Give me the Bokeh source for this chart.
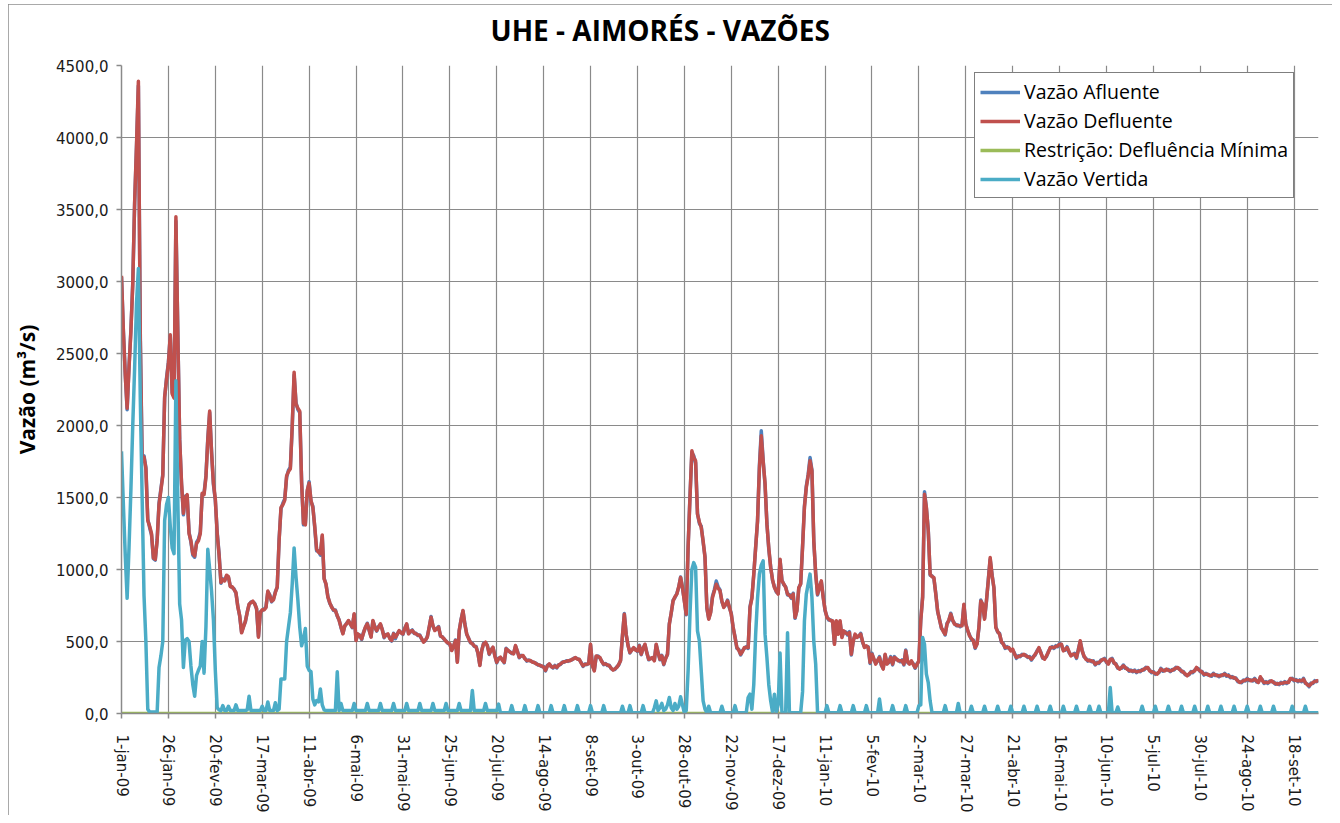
import math
from bokeh.plotting import figure
from bokeh.models import Range1d, FixedTicker, Legend, LegendItem, Title
from bokeh.embed import file_html
from bokeh.resources import INLINE

# ---------------- data (daily, from 1-jan-09; one week per row) ----------------
defluente = [
    3040, 2650, 2350, 2120, 2400, 2650, 2980,
    3550, 3950, 4390, 2600, 1750, 1780, 1700,
    1340, 1300, 1250, 1080, 1070, 1200, 1450,
    1550, 1650, 2200, 2320, 2430, 2630, 2220,
    2190, 3450, 2650, 1900, 1600, 1390, 1500,
    1520, 1250, 1200, 1110, 1095, 1180, 1200,
    1250, 1530, 1520, 1640, 1900, 2100, 1810,
    1600, 1490, 1250, 1100, 910, 930, 920,
    960, 950, 880, 880, 860, 840, 740,
    680, 560, 600, 640, 700, 760, 770,
    780, 760, 730, 530, 700, 720, 720,
    735, 850, 820, 780, 790, 840, 880,
    1200, 1430, 1450, 1480, 1650, 1680, 1700,
    2000, 2370, 2150, 2120, 2100, 1600, 1320,
    1310, 1550, 1600, 1480, 1430, 1300, 1140,
    1120, 1110, 1240, 935, 900, 808, 770,
    738, 720, 715, 680, 646, 600, 553,
    610, 623, 646, 620, 600, 692, 507,
    553, 540, 518, 560, 600, 623, 580,
    530, 646, 600, 576, 600, 623, 580,
    530, 545, 553, 520, 507, 553, 530,
    550, 576, 560, 553, 590, 623, 553,
    570, 576, 560, 553, 545, 541, 520,
    495, 510, 530, 600, 669, 610, 576,
    590, 600, 541, 530, 518, 500, 490,
    484, 437, 470, 507, 356, 576, 650,
    715, 620, 553, 520, 495, 484, 470,
    461, 420, 333, 440, 484, 495, 470,
    414, 440, 461, 400, 356, 380, 391,
    370, 356, 449, 440, 426, 420, 414,
    472, 430, 391, 400, 403, 380, 368,
    368, 368, 356, 356, 345, 340, 333,
    330, 322, 300, 330, 345, 325, 320,
    330, 320, 335, 345, 354, 360, 362,
    366, 366, 375, 380, 389, 377, 377,
    350, 331, 340, 343, 345, 481, 330,
    296, 400, 395, 389, 360, 343, 343,
    338, 331, 315, 301, 310, 320, 340,
    366, 540, 690, 551, 470, 424, 440,
    458, 440, 435, 470, 412, 450, 481,
    420, 377, 380, 389, 366, 481, 420,
    377, 400, 343, 380, 412, 620, 700,
    782, 810, 829, 880, 944, 875, 780,
    690, 1153, 1500, 1824, 1778, 1755, 1384,
    1330, 1292, 1200, 1083, 736, 655, 700,
    806, 850, 898, 870, 852, 782, 736,
    760, 782, 740, 690, 600, 528, 458,
    440, 412, 430, 458, 458, 458, 736,
    800, 968, 1150, 1338, 1700, 1928, 1750,
    1600, 1315, 1150, 1014, 930, 875, 850,
    829, 1072, 921, 900, 875, 829, 820,
    806, 829, 667, 713, 875, 898, 1153,
    1431, 1569, 1650, 1755, 1685, 1199, 968,
    829, 875, 921, 806, 720, 667, 655,
    644, 644, 481, 644, 551, 644, 528,
    574, 560, 551, 562, 412, 500, 551,
    528, 540, 551, 500, 458, 470, 458,
    354, 412, 380, 343, 370, 389, 340,
    308, 412, 343, 360, 389, 343, 389,
    380, 366, 366, 366, 343, 435, 360,
    343, 366, 340, 320, 340, 366, 644,
    806, 1523, 1431, 1268, 968, 950, 944,
    829, 713, 650, 597, 570, 551, 620,
    650, 690, 650, 620, 615, 609, 609,
    609, 759, 620, 580, 539, 520, 505,
    458, 481, 600, 782, 759, 655, 782,
    921, 1083, 960, 875, 597, 570, 551,
    500, 481, 458, 458, 458, 435, 447,
    412, 389, 395, 400, 405, 412, 400,
    395, 389, 377, 390, 412, 430, 458,
    420, 389, 377, 400, 424, 458, 458,
    458, 465, 470, 481, 481, 435, 445,
    458, 430, 400, 412, 412, 389, 440,
    505, 435, 400, 377, 370, 366, 366,
    360, 343, 350, 354, 365, 377, 377,
    360, 343, 377, 377, 354, 340, 320,
    308, 320, 331, 320, 308, 300, 296,
    296, 296, 290, 292, 296, 300, 308,
    315, 320, 296, 290, 285, 278, 273,
    290, 308, 300, 296, 308, 300, 296,
    300, 308, 315, 320, 305, 296, 285,
    275, 262, 275, 285, 290, 296, 320,
    305, 296, 285, 273, 273, 273, 262,
    265, 273, 270, 262, 262, 262, 270,
    273, 265, 262, 255, 250, 250, 240,
    227, 215, 220, 227, 232, 238, 235,
    227, 232, 238, 225, 215, 255, 230,
    215, 215, 215, 220, 227, 215, 210,
    204, 207, 210, 212, 215, 215, 215,
    243, 238, 233, 230, 227, 227, 227,
    238, 215, 200, 192, 205, 215, 222,
    227, 225,
]

afluente = [
    3030, 2660, 2360, 2110, 2410, 2660, 2990,
    3540, 3930, 4360, 2650, 1760, 1790, 1710,
    1350, 1290, 1240, 1075, 1065, 1210, 1460,
    1560, 1660, 2190, 2330, 2440, 2620, 2230,
    2200, 3420, 2660, 1910, 1590, 1380, 1510,
    1510, 1260, 1190, 1100, 1085, 1190, 1210,
    1260, 1520, 1530, 1650, 1910, 2090, 1820,
    1590, 1480, 1260, 1110, 905, 935, 925,
    955, 945, 885, 875, 865, 835, 745,
    675, 565, 605, 635, 705, 755, 775,
    775, 765, 725, 535, 705, 715, 725,
    740, 845, 825, 775, 795, 845, 875,
    1210, 1420, 1460, 1490, 1640, 1690, 1710,
    1990, 2350, 2160, 2110, 2090, 1610, 1310,
    1320, 1540, 1610, 1470, 1440, 1290, 1130,
    1130, 1100, 1230, 940, 895, 812, 765,
    742, 716, 719, 676, 650, 596, 557,
    606, 627, 642, 624, 596, 688, 511,
    549, 544, 514, 564, 596, 627, 576,
    534, 642, 604, 572, 604, 619, 584,
    526, 549, 549, 524, 503, 557, 520,
    554, 572, 564, 549, 594, 619, 557,
    566, 580, 556, 557, 541, 545, 516,
    499, 506, 534, 596, 673, 606, 580,
    586, 604, 537, 534, 514, 504, 486,
    480, 441, 466, 511, 360, 572, 654,
    711, 624, 549, 524, 491, 488, 466,
    465, 416, 337, 436, 488, 491, 474,
    410, 444, 457, 404, 352, 384, 387,
    374, 352, 453, 436, 430, 416, 418,
    468, 434, 387, 404, 399, 384, 364,
    372, 364, 360, 352, 349, 336, 337,
    326, 326, 296, 334, 341, 329, 316,
    334, 316, 339, 341, 358, 356, 366,
    362, 370, 371, 384, 385, 381, 373,
    354, 327, 344, 339, 349, 477, 334,
    300, 396, 399, 385, 364, 339, 347,
    334, 335, 311, 305, 306, 324, 336,
    370, 536, 694, 547, 474, 420, 444,
    454, 444, 431, 474, 408, 454, 477,
    424, 373, 384, 385, 370, 477, 424,
    373, 404, 339, 384, 408, 624, 696,
    786, 806, 833, 876, 948, 871, 784,
    686, 1160, 1510, 1810, 1790, 1740, 1390,
    1320, 1300, 1190, 1090, 730, 660, 705,
    815, 860, 920, 880, 858, 776, 742,
    754, 788, 734, 696, 594, 534, 452,
    446, 406, 436, 452, 464, 452, 742,
    806, 962, 1156, 1332, 1720, 1963, 1760,
    1590, 1325, 1140, 1020, 924, 881, 844,
    835, 1066, 927, 894, 881, 823, 826,
    800, 835, 661, 719, 869, 904, 1160,
    1440, 1580, 1660, 1778, 1690, 1190, 975,
    823, 881, 915, 812, 714, 673, 649,
    650, 638, 487, 638, 557, 638, 534,
    568, 566, 545, 568, 406, 506, 545,
    534, 534, 557, 494, 464, 464, 464,
    348, 418, 374, 349, 364, 395, 334,
    314, 406, 349, 354, 395, 337, 395,
    374, 372, 360, 372, 337, 441, 354,
    349, 360, 346, 314, 346, 360, 650,
    810, 1540, 1425, 1275, 960, 956, 938,
    835, 707, 656, 591, 576, 545, 626,
    644, 696, 644, 626, 609, 615, 603,
    615, 753, 626, 574, 545, 514, 511,
    452, 487, 594, 788, 753, 661, 776,
    930, 1070, 966, 869, 603, 564, 557,
    494, 487, 452, 464, 452, 441, 441,
    418, 383, 401, 394, 411, 406, 406,
    389, 395, 371, 396, 406, 436, 452,
    426, 383, 383, 394, 430, 452, 464,
    452, 471, 464, 487, 475, 441, 439,
    464, 424, 406, 406, 418, 383, 446,
    499, 441, 394, 383, 364, 372, 360,
    366, 337, 356, 348, 371, 371, 383,
    354, 349, 371, 383, 348, 346, 314,
    314, 314, 337, 314, 314, 294, 302,
    290, 302, 284, 298, 290, 306, 302,
    321, 314, 302, 284, 291, 272, 279,
    284, 314, 294, 302, 302, 306, 290,
    306, 302, 321, 314, 311, 290, 291,
    269, 268, 269, 291, 284, 302, 314,
    311, 290, 291, 267, 279, 267, 268,
    259, 279, 264, 268, 256, 268, 264,
    279, 259, 268, 249, 256, 244, 246,
    221, 221, 214, 233, 226, 244, 229,
    233, 226, 244, 219, 221, 249, 236,
    209, 221, 209, 226, 221, 221, 204,
    210, 201, 216, 206, 221, 209, 221,
    237, 244, 227, 236, 221, 233, 221,
    244, 209, 206, 186, 211, 209, 228,
    221, 231,
]

vertida = [
    1820, 1450, 1100, 800, 1150, 1550, 2000,
    2400, 2850, 3090, 2200, 1500, 820, 500,
    30, 10, 10, 10, 10, 10, 320,
    400, 500, 1340, 1450, 1500, 1300, 1150,
    1110, 2310, 1500, 760, 650, 320, 510,
    520, 500, 330, 200, 120, 265, 300,
    330, 500, 280, 600, 1140, 1000, 850,
    650, 300, 40, 25, 20, 55, 20,
    20, 50, 20, 20, 20, 60, 20,
    20, 20, 20, 20, 25, 120, 20,
    20, 20, 20, 20, 20, 50, 20,
    20, 80, 20, 20, 20, 75, 20,
    30, 240, 240, 240, 500, 600, 700,
    900, 1150, 950, 790, 600, 470, 520,
    590, 330, 300, 290, 100, 60, 90,
    80, 170, 60, 25, 20, 20, 20,
    20, 20, 20, 290, 20, 70, 20,
    20, 20, 20, 20, 20, 70, 20,
    20, 20, 20, 20, 20, 70, 20,
    20, 20, 20, 20, 20, 70, 20,
    20, 20, 20, 20, 20, 70, 20,
    20, 20, 20, 20, 20, 70, 20,
    20, 20, 20, 20, 20, 70, 20,
    20, 20, 20, 20, 20, 70, 20,
    20, 20, 20, 20, 20, 70, 20,
    20, 20, 20, 20, 20, 70, 20,
    20, 20, 20, 20, 20, 160, 20,
    20, 20, 20, 20, 20, 70, 20,
    20, 20, 20, 20, 20, 65, 5,
    5, 5, 5, 5, 5, 55, 5,
    5, 5, 5, 5, 5, 55, 5,
    5, 5, 5, 5, 5, 55, 5,
    5, 5, 5, 5, 5, 55, 5,
    5, 5, 5, 5, 5, 55, 5,
    5, 5, 5, 5, 5, 55, 5,
    5, 5, 5, 5, 5, 55, 5,
    5, 5, 5, 5, 5, 55, 5,
    5, 5, 5, 5, 5, 5, 5,
    5, 50, 5, 5, 5, 55, 5,
    5, 5, 5, 5, 5, 55, 5,
    5, 5, 5, 5, 40, 88, 20,
    40, 70, 20, 30, 60, 111, 40,
    20, 70, 30, 50, 116, 60, 5,
    20, 296, 690, 1000, 1048, 1014, 574,
    505, 296, 88, 30, 5, 50, 5,
    5, 5, 5, 5, 5, 50, 5,
    5, 5, 5, 5, 5, 55, 5,
    5, 5, 5, 5, 5, 111, 134,
    30, 200, 551, 800, 968, 1030, 1060,
    551, 389, 200, 88, 10, 134, 10,
    60, 420, 10, 5, 5, 560, 5,
    5, 5, 5, 5, 5, 5, 150,
    643, 829, 900, 968, 806, 500, 343,
    5, 5, 5, 5, 5, 55, 5,
    5, 5, 5, 5, 5, 55, 5,
    5, 5, 5, 5, 5, 55, 5,
    5, 5, 5, 5, 5, 55, 5,
    5, 5, 5, 5, 5, 100, 5,
    5, 5, 5, 5, 5, 55, 5,
    5, 5, 5, 5, 5, 55, 5,
    5, 5, 5, 5, 5, 55, 60,
    528, 481, 273, 215, 88, 5, 5,
    5, 5, 5, 5, 5, 55, 5,
    5, 5, 5, 5, 5, 70, 5,
    5, 5, 5, 5, 5, 50, 5,
    5, 5, 5, 5, 5, 50, 5,
    5, 5, 5, 5, 5, 50, 5,
    5, 5, 5, 5, 5, 50, 5,
    5, 5, 5, 5, 5, 50, 5,
    5, 5, 5, 5, 5, 50, 5,
    5, 5, 5, 5, 5, 50, 5,
    5, 5, 5, 5, 5, 50, 5,
    5, 5, 5, 5, 5, 50, 5,
    5, 5, 5, 5, 5, 50, 5,
    5, 5, 5, 50, 5, 5, 5,
    5, 5, 180, 5, 5, 5, 45,
    5, 5, 5, 5, 5, 5, 5,
    5, 5, 5, 5, 5, 50, 5,
    5, 5, 5, 5, 5, 50, 5,
    5, 5, 5, 5, 5, 50, 5,
    5, 5, 5, 5, 5, 50, 5,
    5, 5, 5, 5, 5, 50, 5,
    5, 5, 5, 5, 5, 50, 5,
    5, 5, 5, 5, 5, 50, 5,
    5, 5, 5, 5, 5, 50, 5,
    5, 5, 5, 5, 5, 50, 5,
    5, 5, 5, 5, 5, 50, 5,
    5, 5, 5, 5, 5, 50, 5,
    5, 5, 5, 5, 5, 5, 5,
    5, 50, 5, 5, 5, 5, 5,
    5, 50, 5, 5, 5, 5, 5,
    5, 5,
]

restricao_valor = 0.0   # Restrição: Defluência Mínima (constant)

titulo = "UHE - AIMORÉS - VAZÕES"
x_tick_labels = ["1-jan-09", "26-jan-09", "20-fev-09", "17-mar-09", "11-abr-09",
                 "6-mai-09", "31-mai-09", "25-jun-09", "20-jul-09", "14-ago-09",
                 "8-set-09", "3-out-09", "28-out-09", "22-nov-09", "17-dez-09",
                 "11-jan-10", "5-fev-10", "2-mar-10", "27-mar-10", "21-abr-10",
                 "16-mai-10", "10-jun-10", "5-jul-10", "30-jul-10", "24-ago-10",
                 "18-set-10"]
x_tick_step_days = 25
y_ticks = [0, 500, 1000, 1500, 2000, 2500, 3000, 3500, 4000, 4500]
y_tick_labels = ["0,0", "500,0", "1000,0", "1500,0", "2000,0", "2500,0",
                 "3000,0", "3500,0", "4000,0", "4500,0"]

# ---------------- figure ----------------
n_days = len(defluente)
p = figure(frame_width=1197, frame_height=648, output_backend="svg",
           toolbar_location=None, title=titulo,
           x_range=Range1d(0, n_days - 1), y_range=Range1d(0, 4500),
           min_border_left=113, min_border_right=14, min_border_top=61,
           min_border_bottom=100)
p.styles = {"margin-left": "8px", "margin-top": "4px",
            "outline": "1px solid #8c8c8c", "outline-offset": "-1px"}
p.outline_line_color = None
p.background_fill_color = "white"
p.border_fill_color = "white"

# blank spacer between the plot area and the title (lifts the title)
p.add_layout(Title(text=" ", text_font_size="12px", standoff=0), "above")

p.title.align = "left"
p.title.offset = 369
p.title.text_font = "Open Sans"
p.title.text_font_style = "bold"
p.title.text_font_size = "28px"
p.title.text_color = "black"
p.title.standoff = 2

grid_color = "#8a8a8a"
x_ticks = [i * x_tick_step_days for i in range(len(x_tick_labels))]

p.xaxis.ticker = FixedTicker(ticks=x_ticks)
p.xaxis.major_label_overrides = {t: l for t, l in zip(x_ticks, x_tick_labels)}
p.xaxis.major_label_orientation = -math.pi / 2
p.xaxis.major_label_text_font = "DejaVu Sans"
p.xaxis.major_label_text_font_size = "15px"
p.xaxis.major_label_text_color = "#1a1a1a"
p.xaxis.major_label_standoff = 16
p.xgrid.ticker = FixedTicker(ticks=x_ticks)

p.yaxis.ticker = FixedTicker(ticks=y_ticks)
p.yaxis.major_label_overrides = {t: l for t, l in zip(y_ticks, y_tick_labels)}
p.yaxis.major_label_text_font = "DejaVu Sans"
p.yaxis.major_label_text_font_size = "15px"
p.yaxis.major_label_text_color = "#1a1a1a"
p.yaxis.major_label_standoff = 8
p.yaxis.axis_label = "Vazão (m³/s)"
p.yaxis.axis_label_text_font = "Open Sans"
p.yaxis.axis_label_text_font_style = "bold"
p.yaxis.axis_label_text_font_size = "21px"
p.yaxis.axis_label_text_color = "black"
p.yaxis.axis_label_standoff = 12
p.ygrid.ticker = FixedTicker(ticks=y_ticks)

for ax in (p.xaxis, p.yaxis):
    ax.axis_line_color = grid_color
    ax.axis_line_width = 1.5
    ax.major_tick_line_color = grid_color
    ax.major_tick_line_width = 1.5
    ax.major_tick_out = 5
    ax.major_tick_in = 0
    ax.minor_tick_line_color = None

for g in (p.xgrid, p.ygrid):
    g.grid_line_color = grid_color
    g.grid_line_width = 1.2

x_af = list(range(len(afluente)))
x_de = list(range(len(defluente)))
x_ve = list(range(len(vertida)))
restricao = [restricao_valor for _ in x_de]

lw = 3.5
r_af = p.line(x_af, afluente, line_color="#4F81BD", line_width=lw, line_join="round")
r_de = p.line(x_de, defluente, line_color="#C0504D", line_width=lw, line_join="round")
r_re = p.line(x_de, restricao, line_color="#9BBB59", line_width=lw, line_join="round")
r_ve = p.line(x_ve, vertida, line_color="#4BACC6", line_width=lw, line_join="round")

legend = Legend(items=[
    LegendItem(label="Vazão Afluente", renderers=[r_af]),
    LegendItem(label="Vazão Defluente", renderers=[r_de]),
    LegendItem(label="Restrição: Defluência Mínima", renderers=[r_re]),
    LegendItem(label="Vazão Vertida", renderers=[r_ve]),
], location=(853, 515))
legend.border_line_color = "black"
legend.border_line_width = 1
legend.background_fill_color = "white"
legend.background_fill_alpha = 1.0
legend.padding = 5
legend.spacing = 2
legend.margin = 0
legend.label_standoff = 4
legend.glyph_width = 40
legend.glyph_height = 20
legend.label_height = 20
legend.label_text_font = "Open Sans"
legend.label_text_font_size = "19.5px"
legend.label_text_color = "black"
p.add_layout(legend, "center")

open("out.html", "w").write(file_html(p, INLINE))
